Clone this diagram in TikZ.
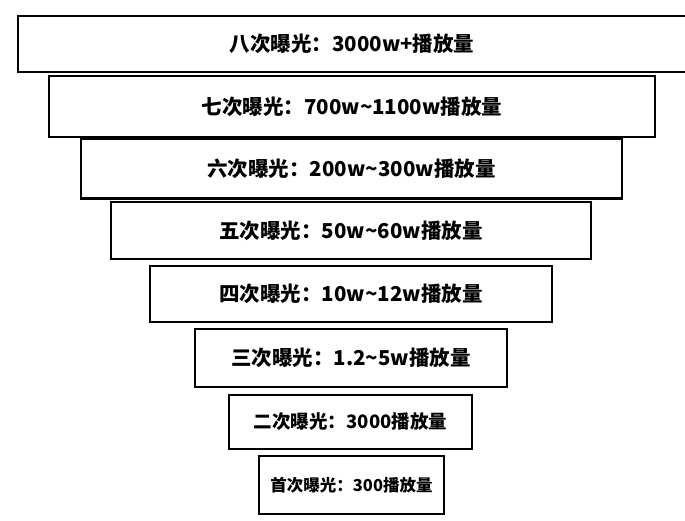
\documentclass[tikz,border=0pt]{standalone}
\usepackage{fontspec}
\newfontfamily\cjk{Noto Sans CJK SC}
\tikzset{stufe/.style={rectangle, draw, line width=2.8pt, inner sep=0pt, font=\cjk\bfseries\fontsize{20.5}{23}\selectfont}}
\begin{document}
\begin{tikzpicture}[x=1pt,y=-1pt]
\useasboundingbox (0,0) rectangle (685,521);
\node [stufe, minimum width=668pt, minimum height=56pt] (ex8) at (352,44) {八次曝光：3000w+播放量};
\node [stufe, minimum width=606pt, minimum height=61pt] (ex7) at (352,106.5) {七次曝光：700w\textasciitilde1100w播放量};
\node [stufe, minimum width=541pt, minimum height=60pt] (ex6) at (351.5,168.5) {六次曝光：200w\textasciitilde300w播放量};
\node [stufe, minimum width=480pt, minimum height=57pt] (ex5) at (351,230.5) {五次曝光：50w\textasciitilde60w播放量};
\node [stufe, minimum width=402pt, minimum height=56pt] (ex4) at (351,294) {四次曝光：10w\textasciitilde12w播放量};
\node [stufe, minimum width=312pt, minimum height=58pt] (ex3) at (351,358) {三次曝光：1.2\textasciitilde5w播放量};
\node [stufe, minimum width=243pt, minimum height=54pt, font=\cjk\bfseries\fontsize{18.5}{21}\selectfont] (ex2) at (350.5,422) {二次曝光：3000播放量};
\node [stufe, minimum width=185pt, minimum height=58pt, font=\cjk\bfseries\fontsize{16.5}{19}\selectfont] (ex1) at (351.5,485) {首次曝光：300播放量};
\end{tikzpicture}
\end{document}
